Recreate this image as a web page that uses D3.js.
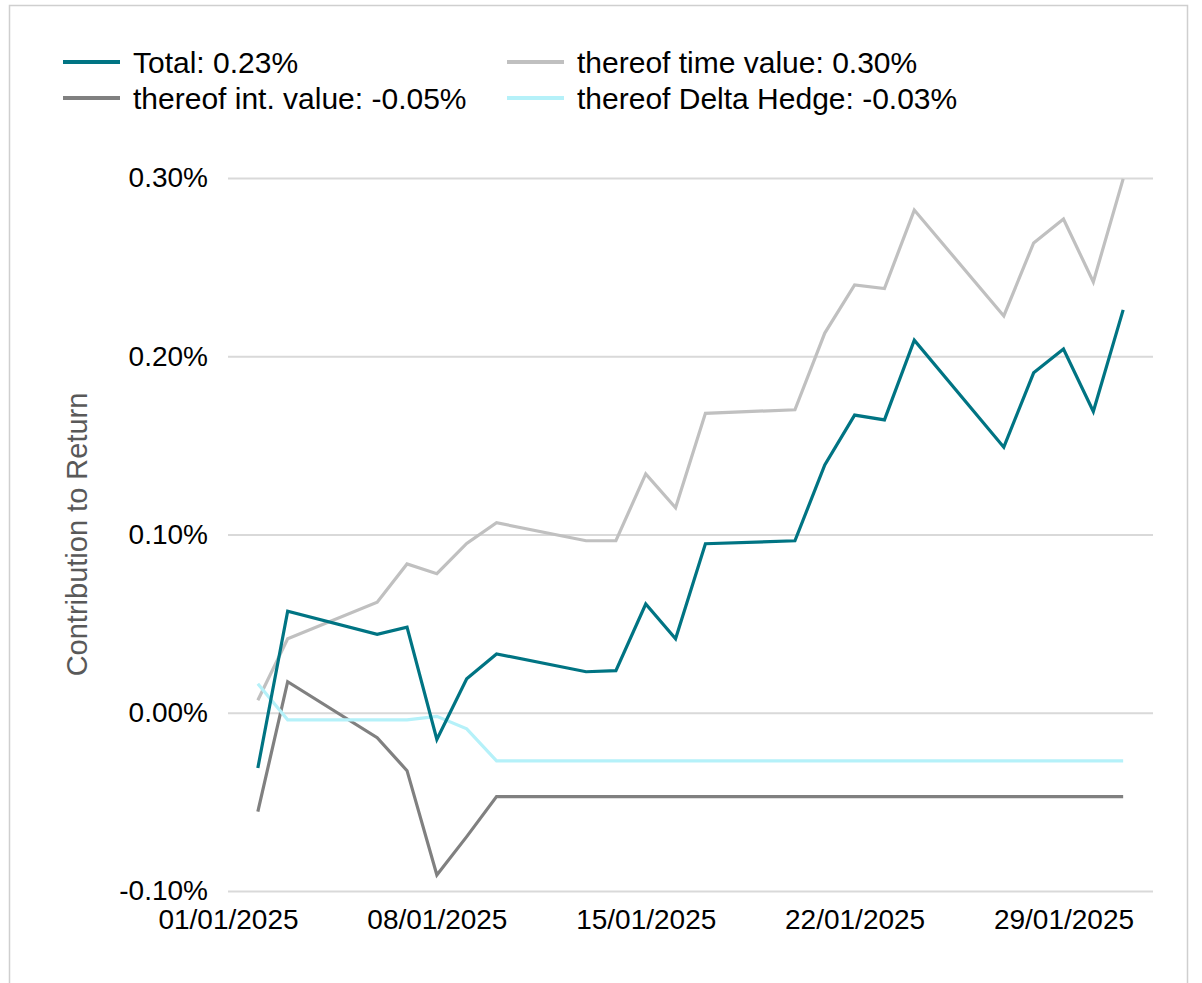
<!DOCTYPE html>
<html>
<head>
<meta charset="utf-8">
<script src="https://cdn.jsdelivr.net/npm/d3@7"></script>
<style>
	body { margin: 0; background: #fff; }
	svg { display: block; font-family: "Liberation Sans", Arial, sans-serif; }
</style>
</head>
<body>
<div id="chart"></div>
<script>
// trading days, January 2025
var dates = ["2025-01-02", "2025-01-03", "2025-01-06", "2025-01-07", "2025-01-08", "2025-01-09",
	"2025-01-10", "2025-01-13", "2025-01-14", "2025-01-15", "2025-01-16", "2025-01-17",
	"2025-01-20", "2025-01-21", "2025-01-22", "2025-01-23", "2025-01-24", "2025-01-27",
	"2025-01-28", "2025-01-29", "2025-01-30", "2025-01-31"];

// values in percent
var total = [-0.031, 0.057, 0.044, 0.048, -0.015, 0.019, 0.033, 0.023, 0.0236, 0.061, 0.0415,
	0.0948, 0.0965, 0.139, 0.167, 0.1643, 0.209, 0.149, 0.1907, 0.204, 0.169, 0.226];
var timeValue = [0.007, 0.0415, 0.062, 0.0835, 0.078, 0.095, 0.1066, 0.0965, 0.0965, 0.134, 0.115,
	0.168, 0.170, 0.213, 0.240, 0.238, 0.282, 0.2226, 0.2636, 0.277, 0.2417, 0.2995];
var intValue = [-0.0555, 0.0174, -0.014, -0.0325, -0.091, -0.0695, -0.047, -0.047, -0.047, -0.047,
	-0.047, -0.047, -0.047, -0.047, -0.047, -0.047, -0.047, -0.047, -0.047, -0.047, -0.047, -0.047];
var deltaHedge = [0.0163, -0.004, -0.004, -0.004, -0.002, -0.009, -0.027, -0.027, -0.027, -0.027,
	-0.027, -0.027, -0.027, -0.027, -0.027, -0.027, -0.027, -0.027, -0.027, -0.027, -0.027, -0.027];

var seriesNames = ["Total: 0.23%", "thereof time value: 0.30%", "thereof int. value: -0.05%", "thereof Delta Hedge: -0.03%"];
var yTicks = [-0.1, 0, 0.1, 0.2, 0.3];
var xTicks = ["2025-01-01", "2025-01-08", "2025-01-15", "2025-01-22", "2025-01-29"];

var width = 1202, height = 983;
var margin = { top: 178, right: 49, bottom: 92, left: 228 };

var colors = {
	total: "#007483",
	time: "#c0c0c0",
	int: "#808080",
	delta: "#b5f1f9"
};

var parseDate = d3.utcParse("%Y-%m-%d");
var fmtDate = d3.utcFormat("%d/%m/%Y");
// plain hyphen for negatives, like the original
var fmtPct = d3.formatLocale({ decimal: ".", thousands: ",", grouping: [3], currency: ["", ""], minus: "-" }).format(".2f");

var svg = d3.select("#chart").append("svg")
	.attr("width", width)
	.attr("height", height);

// frame
svg.append("rect")
	.attr("x", 9.5)
	.attr("y", 5.5)
	.attr("width", 1178)
	.attr("height", 1000)
	.attr("fill", "none")
	.attr("stroke", "#cfcfcf")
	.attr("stroke-width", 1.5);

var x = d3.scaleUtc()
	.domain([parseDate("2025-01-01"), parseDate("2025-02-01")])
	.range([margin.left, width - margin.right]);

var y = d3.scaleLinear()
	.domain([-0.1, 0.3])
	.range([height - margin.bottom, margin.top]);

// gridlines + y labels
var yAxis = d3.axisLeft(y)
	.tickValues(yTicks)
	.tickSize(-(width - margin.right - margin.left))
	.tickPadding(20)
	.tickFormat(function (d) { return fmtPct(d) + "%"; });

var gy = svg.append("g")
	.attr("transform", "translate(" + margin.left + ",0)")
	.call(yAxis);
gy.select(".domain").remove();
gy.selectAll(".tick line").attr("stroke", "#d9d9d9").attr("stroke-width", 2);
gy.selectAll(".tick text")
	.attr("fill", "#000")
	.style("font-size", "28px")
	.attr("font-family", "Liberation Sans, Arial, sans-serif");

// x labels
var xAxis = d3.axisBottom(x)
	.tickValues(xTicks.map(parseDate))
	.tickSize(0)
	.tickPadding(18)
	.tickFormat(fmtDate);

var gx = svg.append("g")
	.attr("transform", "translate(0," + (height - margin.bottom) + ")")
	.call(xAxis);
gx.select(".domain").remove();
gx.selectAll(".tick text")
	.attr("fill", "#000")
	.style("font-size", "28px")
	.attr("font-family", "Liberation Sans, Arial, sans-serif");

// y title
svg.append("text")
	.attr("transform", "translate(87," + ((margin.top + height - margin.bottom) / 2) + ") rotate(-90)")
	.attr("text-anchor", "middle")
	.attr("fill", "#595959")
	.style("font-size", "29px")
	.text("Contribution to Return");

var series = [
	{ name: seriesNames[1], values: timeValue, color: colors.time },
	{ name: seriesNames[2], values: intValue, color: colors.int },
	{ name: seriesNames[3], values: deltaHedge, color: colors.delta },
	{ name: seriesNames[0], values: total, color: colors.total }
];

var line = d3.line()
	.x(function (d) { return x(d.date); })
	.y(function (d) { return y(d.v); });

series.forEach(function (s) {
	var pts = dates.map(function (dt, i) { return { date: parseDate(dt), v: s.values[i] }; });
	svg.append("path")
		.datum(pts)
		.attr("d", line)
		.attr("fill", "none")
		.attr("stroke", s.color)
		.attr("stroke-width", 3.2)
		.attr("stroke-linejoin", "miter");
});

// legend
var legendItems = [
	{ name: seriesNames[0], color: colors.total, lx: 63, ly: 62 },
	{ name: seriesNames[1], color: colors.time, lx: 507, ly: 62 },
	{ name: seriesNames[2], color: colors.int, lx: 63, ly: 98 },
	{ name: seriesNames[3], color: colors.delta, lx: 507, ly: 98 }
];

var legend = svg.append("g").selectAll("g")
	.data(legendItems)
	.enter()
	.append("g")
	.attr("transform", function (d) { return "translate(" + d.lx + "," + d.ly + ")"; });

legend.append("line")
	.attr("x1", 0).attr("x2", 57)
	.attr("stroke", function (d) { return d.color; })
	.attr("stroke-width", 4);

legend.append("text")
	.attr("x", 70)
	.attr("dy", "0.35em")
	.attr("fill", "#000")
	.style("font-size", "30px")
	.text(function (d) { return d.name; });
</script>
</body>
</html>
